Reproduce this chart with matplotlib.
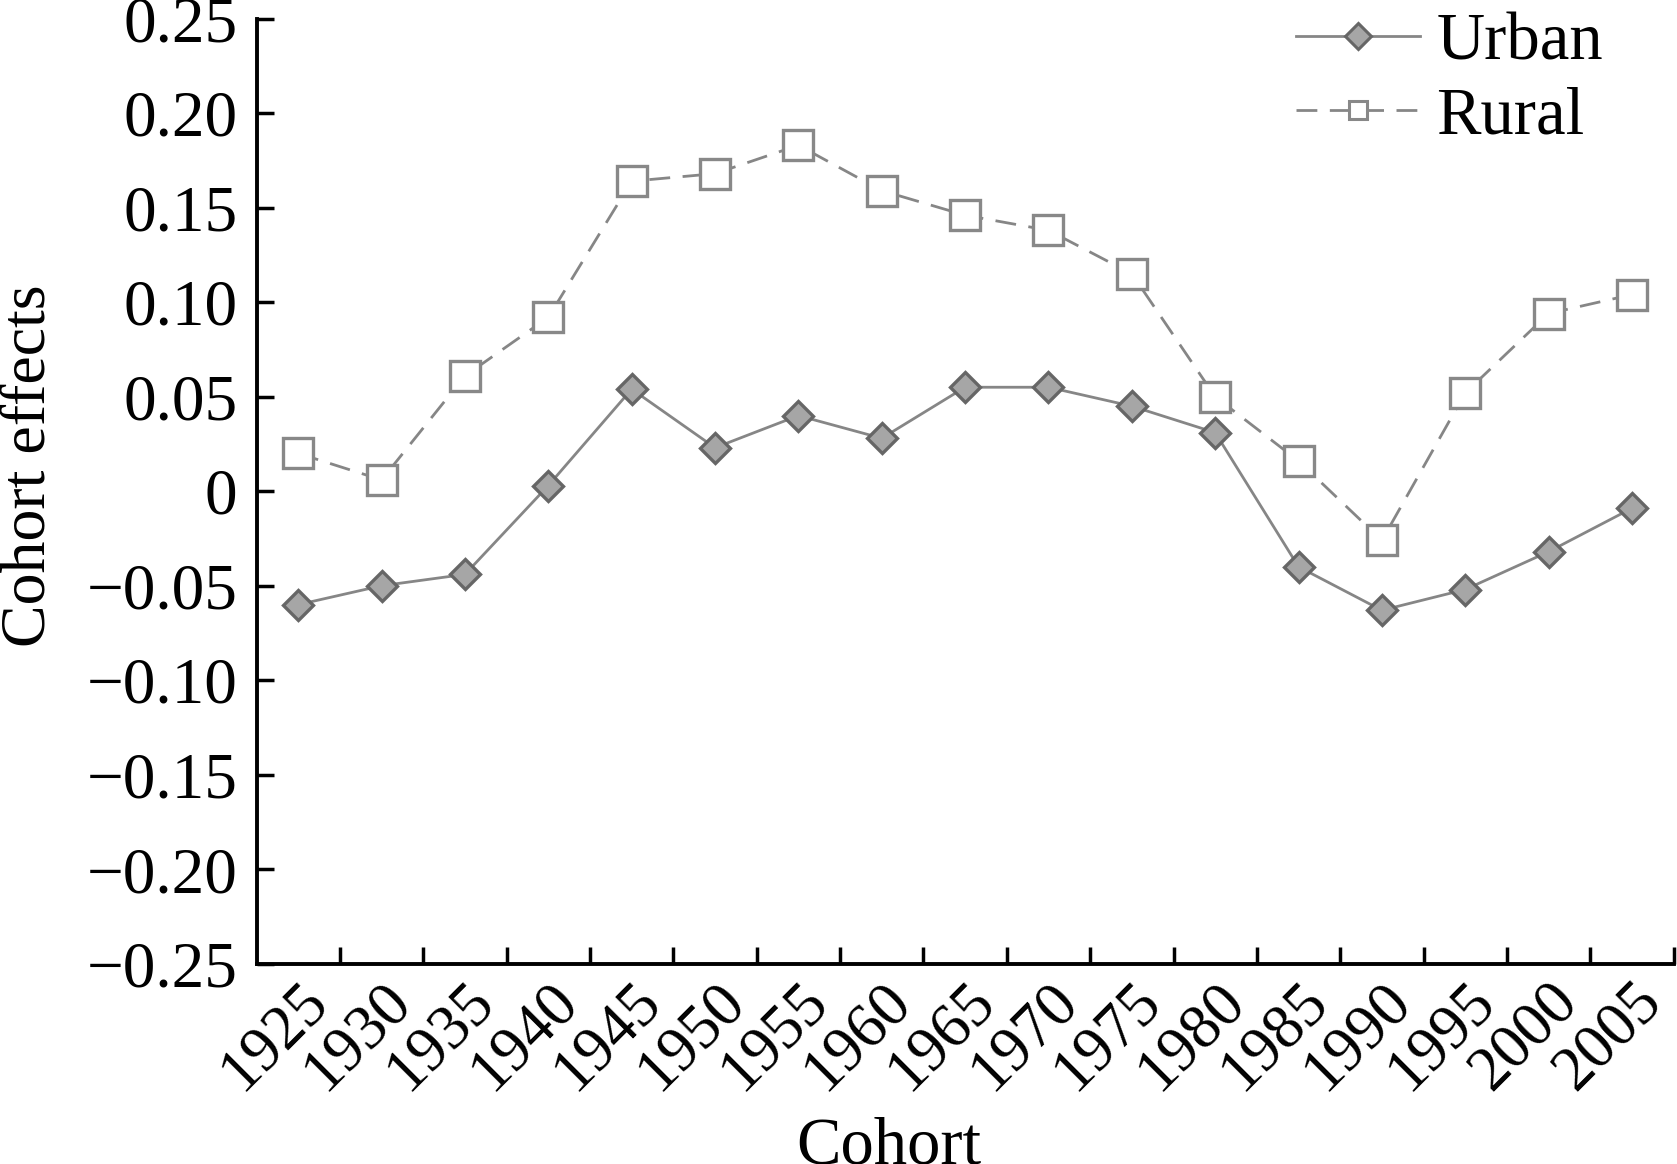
import matplotlib
matplotlib.use('Agg')
import matplotlib.pyplot as plt
from matplotlib.lines import Line2D
from matplotlib.ticker import FixedLocator, FuncFormatter

# cohort labels and estimated effects
cohorts = ['1925', '1930', '1935', '1940', '1945', '1950', '1955', '1960', '1965',
           '1970', '1975', '1980', '1985', '1990', '1995', '2000', '2005']
urban = [-0.060, -0.050, -0.044, 0.003, 0.054, 0.023, 0.040, 0.028, 0.055,
         0.055, 0.045, 0.031, -0.040, -0.063, -0.052, -0.032, -0.009]
rural = [0.020, 0.006, 0.061, 0.092, 0.164, 0.168, 0.183, 0.159, 0.146,
         0.138, 0.115, 0.050, 0.016, -0.026, 0.052, 0.094, 0.104]
yticks = [0.25, 0.20, 0.15, 0.10, 0.05, 0, -0.05, -0.10, -0.15, -0.20, -0.25]

plt.rcParams['font.family'] = ['Liberation Serif', 'DejaVu Serif']
plt.rcParams['axes.unicode_minus'] = True

fig = plt.figure(figsize=(16.77, 11.64), dpi=100)
ax = fig.add_axes([0.153, 0.172, 0.845, 0.812])

x = list(range(len(cohorts)))
line_col = '#868686'
dash = (0, (7.5, 4.5))

ax.plot(x, rural, color=line_col, lw=2.0, linestyle=dash,
        marker='s', ms=21, mfc='white', mec='#888888', mew=2.4, zorder=3)
ax.plot(x, urban, color=line_col, lw=2.0, linestyle='-',
        marker='D', ms=15, mfc='#a6a6a6', mec='#666666', mew=2.4, zorder=4)

ax.set_xlim(-0.5, len(cohorts) - 0.5)
ax.set_ylim(-0.25, 0.25)

ax.set_xticks(x)
ax.set_xticklabels(cohorts, rotation=45, ha='right', va='top',
                   rotation_mode='anchor', fontsize=45)
ax.xaxis.set_minor_locator(FixedLocator([i + 0.5 for i in x]))
ax.tick_params(axis='x', which='major', length=0, pad=6)
ax.tick_params(axis='x', which='minor', direction='in', length=12, width=2.5)

ax.set_yticks(yticks)
ax.yaxis.set_major_formatter(FuncFormatter(
    lambda v, p: '0' if abs(v) < 1e-9 else ('%.2f' % v).replace('-', '\u2212')))
ax.tick_params(axis='y', direction='in', length=12, width=2.5, labelsize=47, pad=14)

for side in ['top', 'right']:
    ax.spines[side].set_visible(False)
for side in ['left', 'bottom']:
    ax.spines[side].set_linewidth(2.8)

ax.set_xlabel('Cohort', fontsize=48, va='top')
ax.set_ylabel('Cohort effects', fontsize=46)
ax.xaxis.set_label_coords(0.446, -0.162)
ax.yaxis.set_label_coords(-0.140, 0.527)

handles = [
    Line2D([], [], color=line_col, lw=2.0, marker='D', ms=13,
           mfc='#a6a6a6', mec='#666666', mew=2.2),
    Line2D([], [], color=line_col, lw=2.0, linestyle=dash, marker='s', ms=13,
           mfc='white', mec='#888888', mew=2.2),
]
ax.legend(handles, ['Urban', 'Rural'], loc='upper right', frameon=False,
          fontsize=48, handlelength=1.85, handletextpad=0.25, labelspacing=0.2,
          bbox_to_anchor=(0.969, 1.035), borderaxespad=0)

fig.savefig('out.png', dpi=100)
